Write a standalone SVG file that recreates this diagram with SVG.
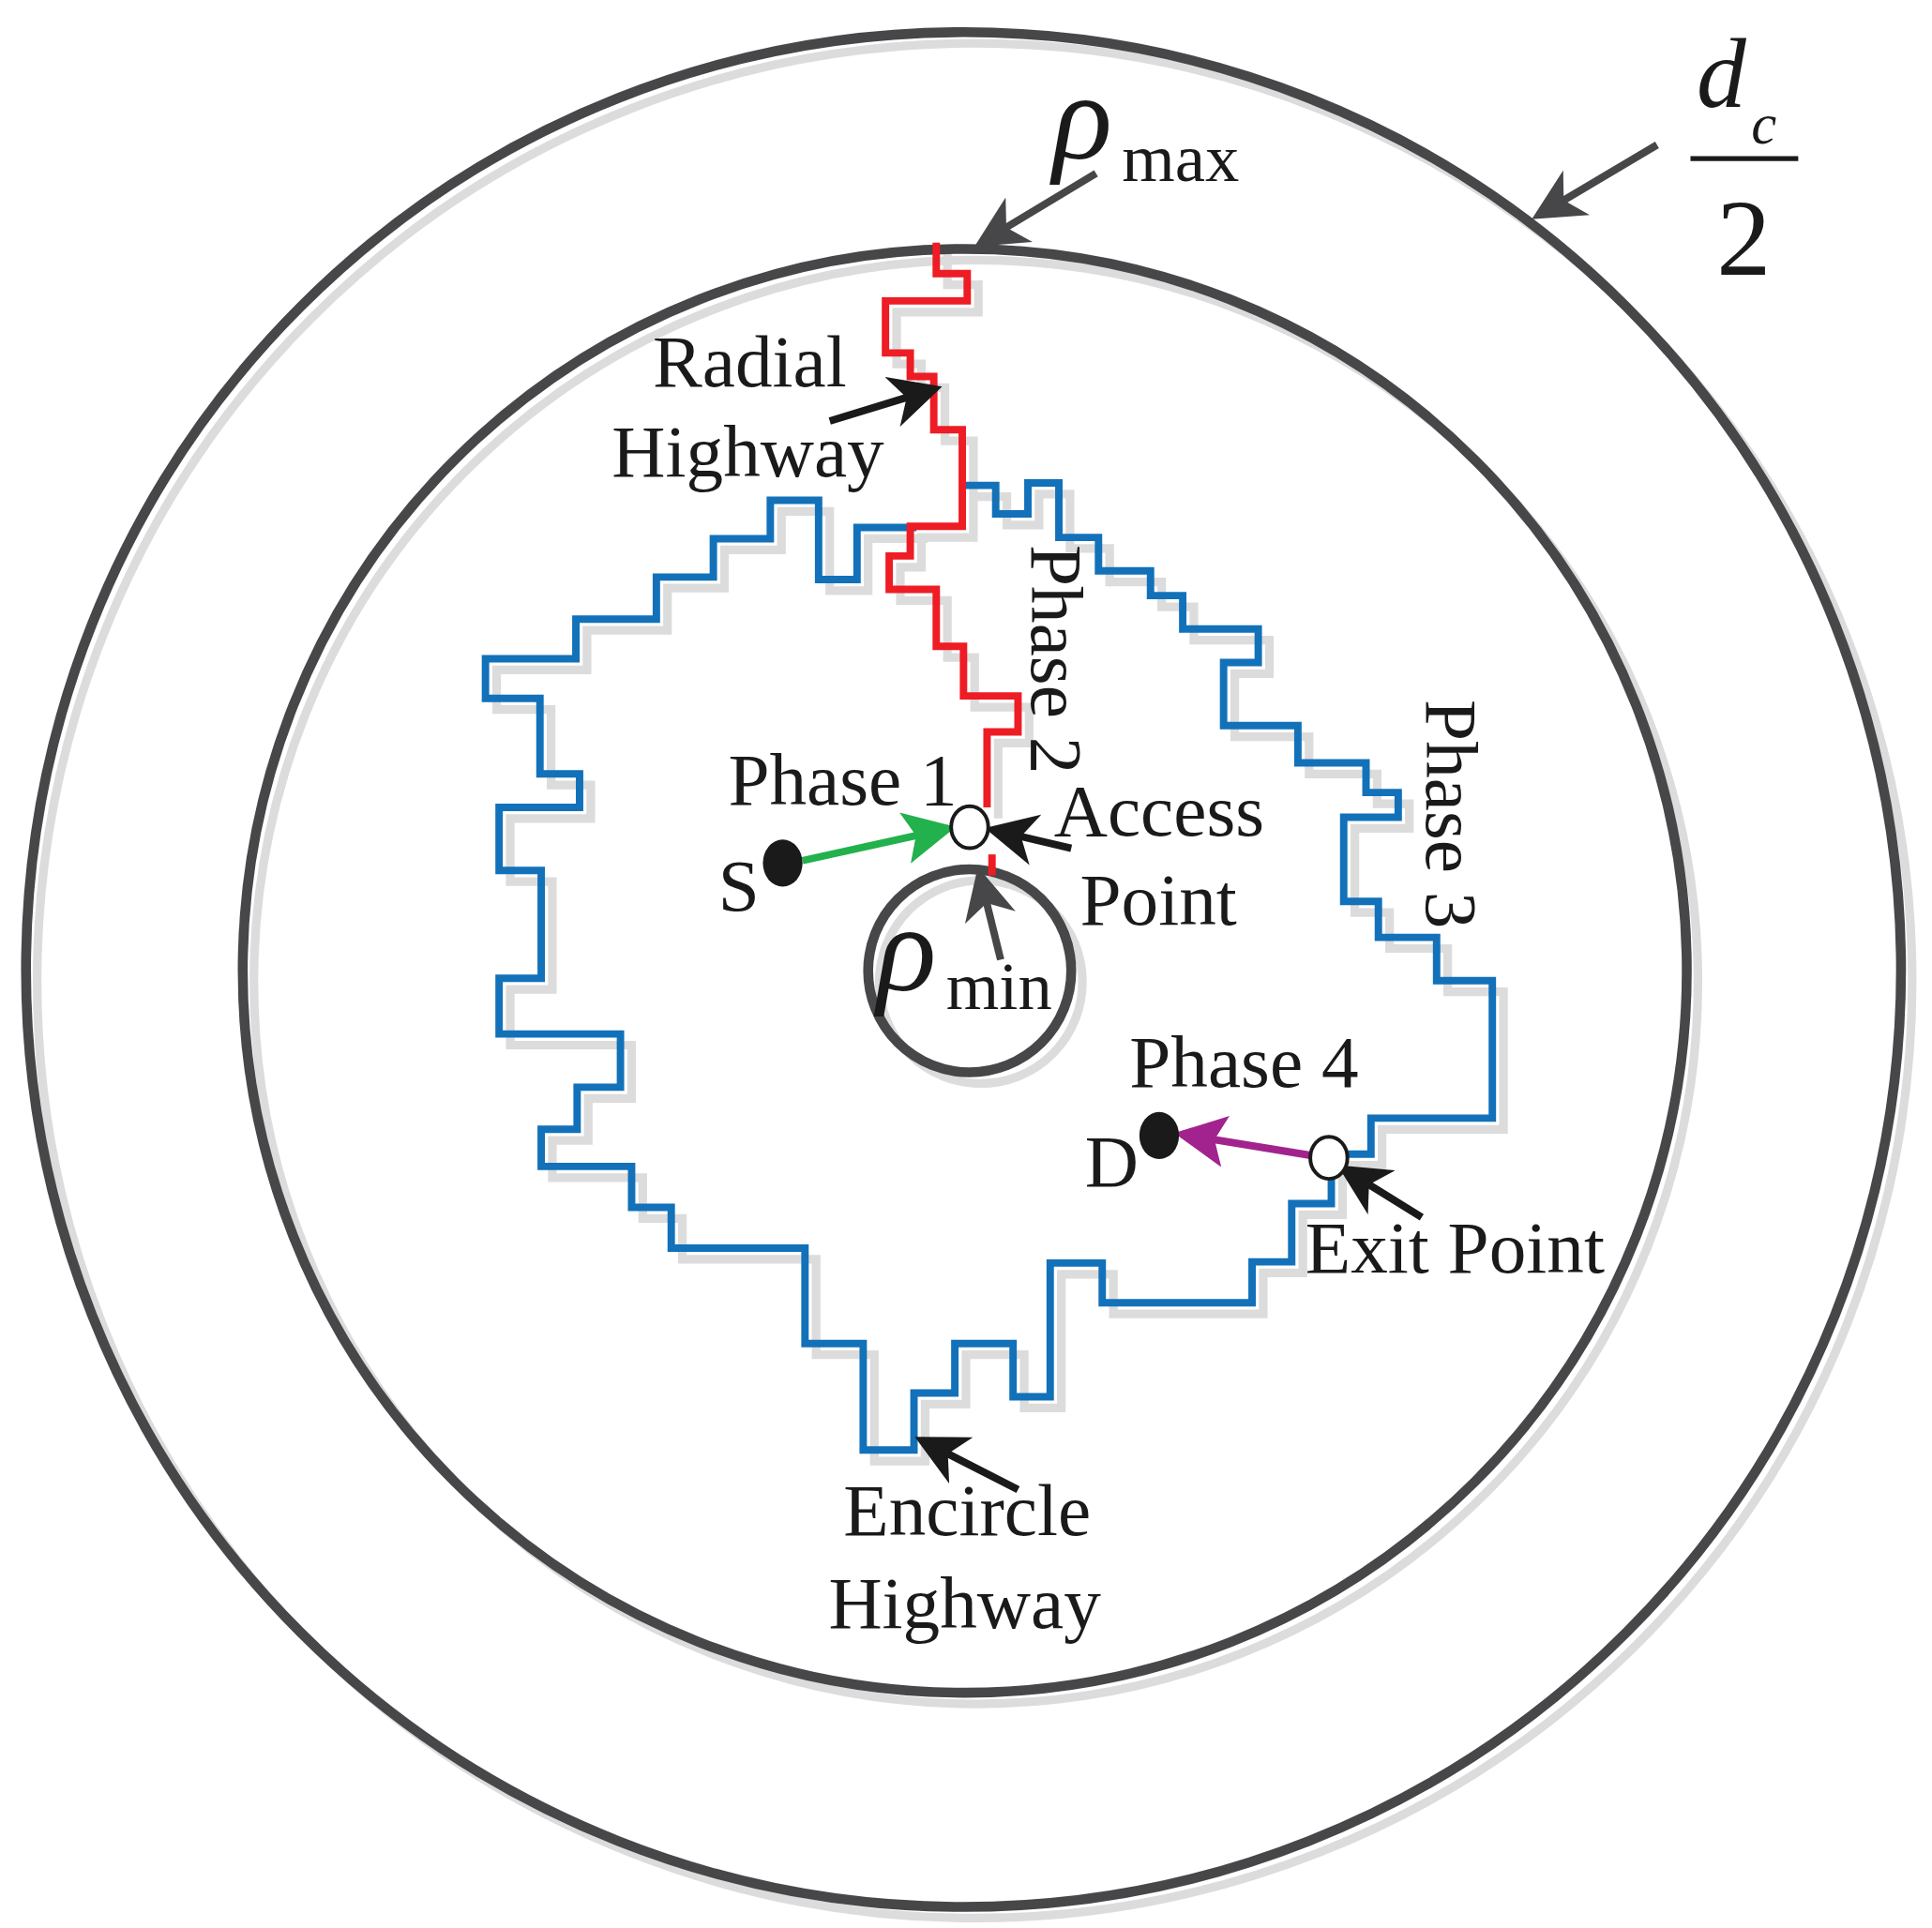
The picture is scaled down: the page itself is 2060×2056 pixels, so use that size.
<svg xmlns="http://www.w3.org/2000/svg" width="2060" height="2056" viewBox="0 0 2060 2056">
<style>
.ring{fill:none;stroke:#474749;stroke-width:8}
.sh{fill:none;stroke:#dcdcdc;stroke-width:7}
.blue{fill:none;stroke:#1271b9;stroke-width:6;stroke-linejoin:miter}
.red{fill:none;stroke:#ee1c24;stroke-width:6}
.t{font-family:"Liberation Serif",serif;font-size:60px;fill:#1a1a1a}
.ti{font-family:"Liberation Serif",serif;font-style:italic;fill:#1a1a1a}
.arr{stroke:#1a1a1a;stroke-width:6;fill:none}
.garr{stroke:#474749;stroke-width:6;fill:none}
</style>
<defs>
<marker id="ab" markerWidth="7" markerHeight="7" refX="6" refY="3.5" orient="auto" markerUnits="strokeWidth"><path d="M0,0 L7,3.5 L0,7 L2,3.5 Z" fill="#1a1a1a"/></marker>
<marker id="ag" markerWidth="7" markerHeight="7" refX="6" refY="3.5" orient="auto" markerUnits="strokeWidth"><path d="M0,0 L7,3.5 L0,7 L2,3.5 Z" fill="#474749"/></marker>
<marker id="agr" markerWidth="7" markerHeight="7" refX="6" refY="3.5" orient="auto" markerUnits="strokeWidth"><path d="M0,0 L7,3.5 L0,7 L1.5,3.5 Z" fill="#22b14c"/></marker>
<marker id="apu" markerWidth="7" markerHeight="7" refX="6" refY="3.5" orient="auto" markerUnits="strokeWidth"><path d="M0,0 L7,3.5 L0,7 L1.5,3.5 Z" fill="#a3238e"/></marker>
</defs>
<rect width="2060" height="2056" fill="#fff"/>
<g transform="scale(1.3205)">
<g id="shadows" transform="translate(9,9)">
<circle class="sh" cx="778" cy="783" r="757"/>
<circle class="sh" cx="779" cy="784" r="583"/>
<circle class="sh" cx="783" cy="784" r="82"/>
<path class="sh" d="M777,392 H804 V415 H830 V390 H855 V434 H887 V461 H929 V481 H955 V508 H1016 V535 H988 V586 H1048 V616 H1103 V640 H1129 V660 H1085 V728 H1113 V757 H1160 V792 H1205 V903 H1107 V932 H1075 V972 H1043 V1019 H1011 V1052 H890 V1020 H848 V1128 H818 V1085 H771 V1125 H738 V1171 H697 V1085 H650 V1008 H542 V975 H510 V942 H437 V912 H466 V878 H501 V835 H403 V790 H437 V703 H403 V652 H468 V625 H436 V564 H392 V532 H465 V500 H530 V466 H576 V435 H622 V404 H661 V468 H692 V426 H740"/>
<path class="sh" d="M756,196 V221 H781 V243 H715 V285 H735 V304 H754 V347 H777 V425 H735 V449 H718 V476 H756 V522 H778 V562 H822 V591 H797 V652"/>
</g>
<g id="rings">
<circle id="outer" class="ring" cx="778" cy="783" r="757"/>
<circle id="middle" class="ring" cx="779" cy="784" r="583"/>
<circle id="inner" class="ring" cx="783" cy="784" r="82"/>
</g>
<g id="encircle-highway">
<path class="blue" d="M777,392 H804 V415 H830 V390 H855 V434 H887 V461 H929 V481 H955 V508 H1016 V535 H988 V586 H1048 V616 H1103 V640 H1129 V660 H1085 V728 H1113 V757 H1160 V792 H1205 V903 H1107 V932 H1075 V972 H1043 V1019 H1011 V1052 H890 V1020 H848 V1128 H818 V1085 H771 V1125 H738 V1171 H697 V1085 H650 V1008 H542 V975 H510 V942 H437 V912 H466 V878 H501 V835 H403 V790 H437 V703 H403 V652 H468 V625 H436 V564 H392 V532 H465 V500 H530 V466 H576 V435 H622 V404 H661 V468 H692 V426 H740"/>
</g>
<g id="radial-highway">
<path class="red" d="M756,196 V221 H781 V243 H715 V285 H735 V304 H754 V347 H777 V425 H735 V449 H718 V476 H756 V522 H778 V562 H822 V591 H797 V652"/>
<path class="red" d="M801,690 V707" stroke-width="5"/>
</g>
<g id="connectors">
<line x1="648" y1="695" x2="766" y2="669" stroke="#22b14c" stroke-width="6" marker-end="url(#agr)"/>
<line x1="1058" y1="933" x2="954" y2="916" stroke="#a3238e" stroke-width="6" marker-end="url(#apu)"/>
<line class="arr" x1="670" y1="340" x2="755" y2="314" marker-end="url(#ab)"/>
<line class="arr" x1="865" y1="685" x2="801" y2="670" marker-end="url(#ab)"/>
<line class="garr" x1="808" y1="775" x2="791" y2="706" marker-end="url(#ag)"/>
<line class="arr" x1="1148" y1="983" x2="1085" y2="944" marker-end="url(#ab)"/>
<line class="arr" x1="822" y1="1203" x2="744" y2="1163" marker-end="url(#ab)"/>
<line class="garr" x1="885" y1="140" x2="792" y2="196" marker-end="url(#ag)"/>
<line class="garr" x1="1338" y1="117" x2="1242" y2="174" marker-end="url(#ag)"/>
</g>
<g id="points">
<ellipse id="S" cx="632" cy="697" rx="16" ry="19" fill="#1a1a1a"/>
<ellipse id="D" cx="936" cy="917" rx="16" ry="19" fill="#1a1a1a"/>
<ellipse id="access" cx="783" cy="668" rx="15" ry="17" fill="#fff" stroke="#1a1a1a" stroke-width="3"/>
<ellipse id="exit" cx="1073" cy="935" rx="15" ry="17" fill="#fff" stroke="#1a1a1a" stroke-width="3"/>
</g>
<g id="labels">
<text class="t" x="527" y="312">Radial</text>
<text class="t" x="494" y="385">Highway</text>
<text class="t" x="588" y="650">Phase 1</text>
<text class="t" x="580" y="735">S</text>
<text class="t" x="851" y="675">Access</text>
<text class="t" x="872" y="747">Point</text>
<text class="t" x="912" y="878">Phase 4</text>
<text class="t" x="876" y="958">D</text>
<text class="t" x="1054" y="1028">Exit Point</text>
<text class="t" x="681" y="1240">Encircle</text>
<text class="t" x="669" y="1315">Highway</text>
<text class="t" transform="translate(833,440) rotate(90)">Phase 2</text>
<text class="t" transform="translate(1152,565) rotate(90)">Phase 3</text>
<text class="ti" x="850" y="128" font-size="100">ρ</text>
<text class="t" x="906" y="146" style="font-size:55px">max</text>
<text class="ti" x="708" y="800" font-size="100">ρ</text>
<text class="t" x="764" y="815" style="font-size:55px">min</text>
<text class="ti" x="1370" y="86" font-size="80">d</text>
<text class="ti" x="1414" y="116" font-size="46">c</text>
<line x1="1365" y1="128" x2="1452" y2="128" stroke="#1a1a1a" stroke-width="4"/>
<text class="t" x="1386" y="222" style="font-size:88px">2</text>
</g>
</g>
</svg>
